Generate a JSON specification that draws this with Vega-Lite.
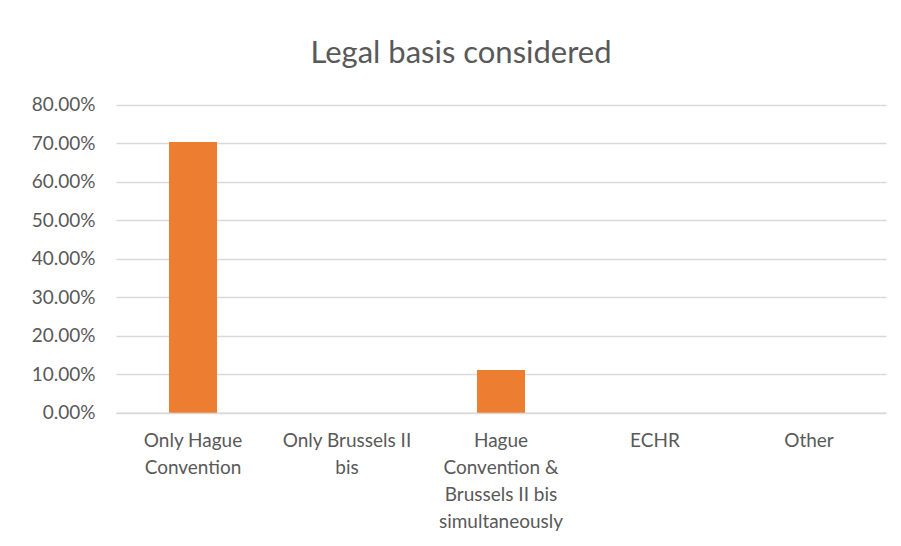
{
  "$schema": "https://vega.github.io/schema/vega-lite/v6.json",
  "autosize": {"type": "none"},
  "width": 770,
  "height": 307.7,
  "padding": {"left": 116, "top": 105, "right": 15, "bottom": 133},
  "background": "white",
  "title": {
    "text": "Legal basis considered",
    "font": "Lato",
    "fontSize": 31,
    "fontWeight": "normal",
    "color": "#595959",
    "anchor": "middle",
    "frame": "group",
    "dx": -40,
    "baseline": "alphabetic",
    "offset": 2
  },
  "data": {
    "values": [
      {"basis": "Only Hague Convention", "share": 0.7037},
      {"basis": "Only Brussels II bis", "share": 0},
      {"basis": "Hague Convention & Brussels II bis simultaneously", "share": 0.1111},
      {"basis": "ECHR", "share": 0},
      {"basis": "Other", "share": 0}
    ]
  },
  "mark": {"type": "bar", "color": "#ED7D31"},
  "encoding": {
    "x": {
      "field": "basis",
      "type": "nominal",
      "sort": null,
      "scale": {"paddingInner": 0.688, "paddingOuter": 0.344},
      "axis": {
        "title": null,
        "labelAngle": 0,
        "labelFont": "Lato",
        "labelFontSize": 19,
        "labelColor": "#595959",
        "labelPadding": 34,
        "labelLineHeight": 27,
        "labelBaseline": "alphabetic",
        "ticks": false,
        "domainColor": "#d9d9d9",
        "domainWidth": 1.5,
        "labelExpr": "datum.value == 'Only Hague Convention' ? ['Only Hague', 'Convention'] : datum.value == 'Only Brussels II bis' ? ['Only Brussels II', 'bis'] : datum.value == 'Hague Convention & Brussels II bis simultaneously' ? ['Hague', 'Convention &', 'Brussels II bis', 'simultaneously'] : datum.value"
      }
    },
    "y": {
      "field": "share",
      "type": "quantitative",
      "scale": {"domain": [0, 0.8], "nice": false},
      "axis": {
        "title": null,
        "format": ".2%",
        "values": [0, 0.1, 0.2, 0.3, 0.4, 0.5, 0.6, 0.7, 0.8],
        "labelFont": "Lato",
        "labelFontSize": 19,
        "labelColor": "#595959",
        "labelPadding": 21,
        "ticks": false,
        "domain": false,
        "gridColor": "#d9d9d9",
        "gridWidth": 1.5
      }
    }
  },
  "config": {"view": {"stroke": null}}
}
